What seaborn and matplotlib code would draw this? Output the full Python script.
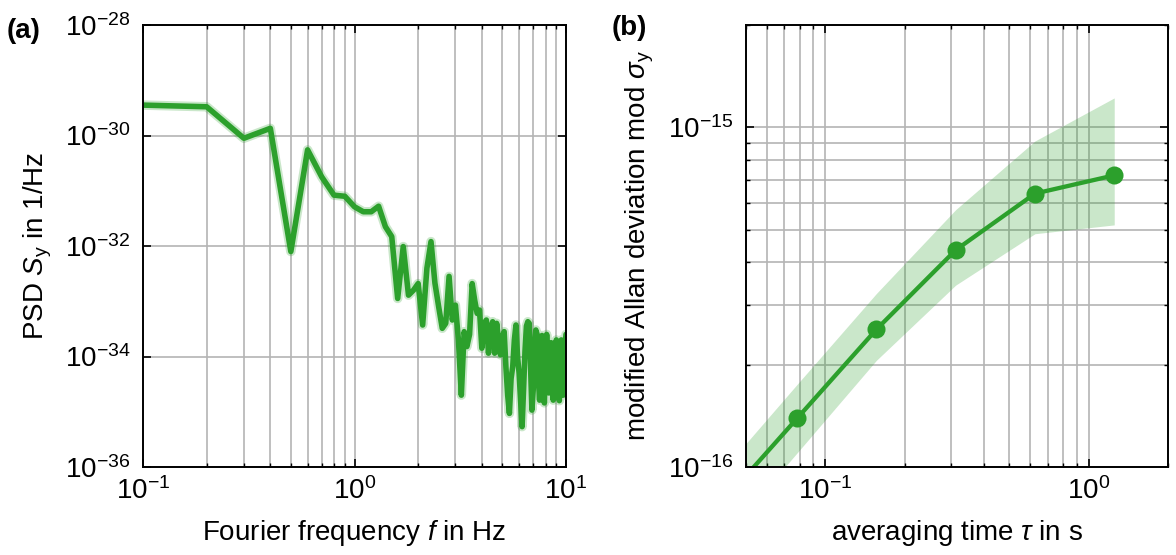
import numpy as np
import pandas as pd
import matplotlib
matplotlib.use("Agg")
import matplotlib.pyplot as plt
import seaborn as sns
from matplotlib.ticker import LogLocator, NullLocator, NullFormatter

# ---- panel (a): PSD of fractional frequency, one bin every 0.1 Hz ----
freq_hz = np.round(np.arange(0.1, 10.05, 0.1), 1)
psd_exp = [  # log10 of S_y
    -29.45, -29.48, -30.05, -29.87, -32.10, -30.26, -30.75, -31.08, -31.10, -31.29,
    -31.38, -31.38, -31.28, -31.65, -31.83, -32.95, -32.01, -32.89, -32.80, -32.68,
    -33.43, -32.40, -31.92, -32.67, -33.10, -33.49, -33.40, -32.55, -33.34, -33.07,
    -33.70, -34.70, -33.55, -33.82, -33.60, -32.68, -32.98, -33.22, -33.16, -33.85,
    -33.40, -33.34, -33.94, -33.50, -33.37, -33.94, -33.40, -33.70, -33.97, -33.64,
    -33.55, -34.20, -34.70, -35.03, -34.40, -34.18, -33.70, -33.43, -34.00, -34.30,
    -34.80, -35.27, -34.60, -33.90, -33.45, -33.37, -33.40, -34.20, -34.97, -34.60,
    -33.80, -33.52, -33.60, -34.40, -34.79, -34.00, -33.62, -34.20, -34.84, -34.10,
    -33.60, -34.00, -34.66, -34.30, -33.75, -34.30, -34.79, -34.50, -34.00, -33.70,
    -34.20, -34.66, -34.80, -34.20, -33.70, -34.10, -34.70, -34.40, -33.80, -33.60,
]

# ---- panel (b): modified Allan deviation with confidence band ----
tau_s = [0.0390625, 0.078125, 0.15625, 0.3125, 0.625, 1.25]
mdev = [7.6e-17, 1.39e-16, 2.54e-16, 4.35e-16, 6.38e-16, 7.22e-16]
mdev_lo = [5.9e-17, 1.10e-16, 2.06e-16, 3.43e-16, 4.86e-16, 5.16e-16]
mdev_hi = [9.4e-17, 1.75e-16, 3.24e-16, 5.72e-16, 9.11e-16, 1.22e-15]

green = "#2ca02c"
fs = 20

sns.set_theme(style="ticks", rc={
    "axes.linewidth": 1.4,
    "axes.edgecolor": "black",
    "axes.labelcolor": "black",
    "text.color": "black",
    "xtick.color": "black",
    "ytick.color": "black",
    "axes.labelsize": fs,
    "xtick.labelsize": fs,
    "ytick.labelsize": fs,
    "grid.color": "#b4b4b4",
    "grid.linewidth": 1.2,
    "xtick.direction": "in",
    "ytick.direction": "in",
    "xtick.major.size": 5.5,
    "ytick.major.size": 5.5,
    "xtick.minor.size": 3.0,
    "ytick.minor.size": 3.0,
    "xtick.major.width": 1.2,
    "ytick.major.width": 1.2,
    "xtick.minor.width": 1.0,
    "ytick.minor.width": 1.0,
})
plt.rcParams["font.family"] = ["Liberation Sans", "DejaVu Sans"]
plt.rcParams["font.size"] = fs
plt.rcParams["mathtext.fontset"] = "custom"
plt.rcParams["mathtext.rm"] = "Liberation Sans"
plt.rcParams["mathtext.it"] = "Liberation Sans:italic"
plt.rcParams["mathtext.bf"] = "Liberation Sans:bold"

fig = plt.figure(figsize=(11.76, 5.55), dpi=100)
W, H = 1176, 555
ax1 = fig.add_axes([143 / W, 1 - 467 / H, 423 / W, 442 / H])
ax2 = fig.add_axes([746 / W, 1 - 467 / H, 422 / W, 442 / H])

# (a)
df_psd = pd.DataFrame({"f": freq_hz, "S": 10.0 ** np.array(psd_exp)})
ax1.set_xscale("log")
ax1.set_yscale("log")
sns.lineplot(data=df_psd, x="f", y="S", ax=ax1, color=green, lw=6.8, alpha=0.25,
             estimator=None, solid_joinstyle="round")
sns.lineplot(data=df_psd, x="f", y="S", ax=ax1, color=green, lw=4.0, estimator=None)
ax1.set_xlim(0.1, 10)
ax1.set_ylim(1e-36, 1e-28)
ax1.set_yticks([1e-36, 1e-34, 1e-32, 1e-30, 1e-28])
ax1.yaxis.set_minor_locator(NullLocator())
ax1.xaxis.set_minor_locator(LogLocator(base=10, subs=range(2, 10)))
ax1.xaxis.set_minor_formatter(NullFormatter())
ax1.grid(True, which="major", axis="y")
ax1.grid(True, which="both", axis="x")
ax1.set_xlabel("Fourier frequency $f$ in Hz")
ax1.set_ylabel(r"PSD $S_\mathrm{y}$ in 1/Hz")
ax1.yaxis.set_label_coords(-0.21, 0.5)
ax1.xaxis.set_label_coords(0.5, -0.115)

# (b)
df_adev = pd.DataFrame({"tau": tau_s, "mdev": mdev, "lo": mdev_lo, "hi": mdev_hi})
ax2.set_xscale("log")
ax2.set_yscale("log")
ax2.fill_between(df_adev["tau"], df_adev["lo"], df_adev["hi"], color=green, alpha=0.25, lw=0)
sns.lineplot(data=df_adev, x="tau", y="mdev", ax=ax2, color=green, lw=3.1,
             marker="o", markersize=13, markeredgewidth=0, estimator=None)
ax2.set_xlim(0.05, 2)
ax2.set_ylim(1e-16, 2e-15)
ax2.xaxis.set_minor_formatter(NullFormatter())
ax2.yaxis.set_minor_formatter(NullFormatter())
ax2.grid(True, which="both")
ax2.set_xlabel(r"averaging time $\tau$ in s")
ax2.set_ylabel(r"modified Allan deviation mod $\sigma_\mathrm{y}$")
ax2.yaxis.set_label_coords(-0.214, 0.5)
ax2.xaxis.set_label_coords(0.5, -0.115)

for ax in (ax1, ax2):
    ax.tick_params(which="both", top=True, right=True)
    ax.tick_params(axis="x", which="major", pad=7)
    ax.tick_params(axis="y", which="major", pad=9)
    ax.set_axisbelow(True)

fig.text(7 / W, 1 - 31 / H, "(a)", fontweight="bold", fontsize=fs, va="center", ha="left")
fig.text(612 / W, 1 - 28 / H, "(b)", fontweight="bold", fontsize=fs, va="center", ha="left")

fig.savefig("out.png", dpi=100)
